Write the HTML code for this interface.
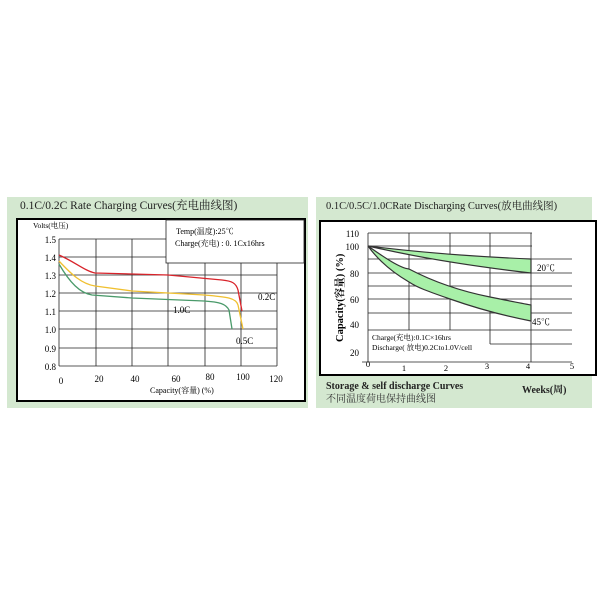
<!DOCTYPE html><html><head><meta charset="utf-8"><style>body{margin:0;background:#fff}svg{display:block}</style></head><body>
<svg width="600" height="600" xmlns="http://www.w3.org/2000/svg" font-family="Liberation Serif, Noto Serif CJK SC, serif">
<rect x="7" y="197" width="301" height="211" fill="#d4e8d0"/>
<rect x="316" y="197" width="276" height="211" fill="#d4e8d0"/>
<text x="20" y="209" font-size="11.5" fill="#222">0.1C/0.2C Rate Charging Curves(充电曲线图)</text>
<rect x="17" y="219" width="288" height="182" fill="#fff" stroke="#000" stroke-width="2"/>
<g stroke="#222" stroke-width="0.8">
<line x1="59" y1="239" x2="59" y2="366"/><line x1="59" y1="366" x2="277" y2="366"/>
<line x1="59" y1="257" x2="277" y2="257"/><line x1="59" y1="275" x2="277" y2="275"/><line x1="59" y1="293" x2="277" y2="293"/><line x1="59" y1="311" x2="277" y2="311"/><line x1="59" y1="329" x2="277" y2="329"/><line x1="59" y1="348" x2="277" y2="348"/><line x1="59" y1="239" x2="166" y2="239"/>
<line x1="96" y1="239" x2="96" y2="366"/><line x1="132" y1="239" x2="132" y2="366"/><line x1="168" y1="239" x2="168" y2="366"/><line x1="205" y1="250" x2="205" y2="366"/><line x1="241" y1="250" x2="241" y2="366"/><line x1="277" y1="250" x2="277" y2="366"/>
</g>
<rect x="166" y="220" width="138" height="43" fill="#fff" stroke="#222" stroke-width="0.8"/>
<text x="176" y="234" font-size="8">Temp(温度):25℃</text>
<text x="175" y="246" font-size="8">Charge(充电) : 0. 1Cx16hrs</text>
<text x="33" y="228" font-size="7.5">Volts(电压)</text>
<g font-size="9" text-anchor="end"><text x="56" y="243">1.5</text><text x="56" y="261">1.4</text><text x="56" y="279">1.3</text><text x="56" y="297">1.2</text><text x="56" y="315">1.1</text><text x="56" y="333">1.0</text><text x="56" y="352">0.9</text><text x="56" y="370">0.8</text></g>
<g font-size="9" text-anchor="middle"><text x="61" y="384">0</text><text x="99" y="382">20</text><text x="135" y="382">40</text><text x="176" y="382">60</text><text x="210" y="380">80</text><text x="243" y="380">100</text><text x="276" y="382">120</text></g>
<text x="150" y="393" font-size="8">Capacity(容量) (%)</text>
<text x="258" y="300" font-size="9">0.2C</text><text x="173" y="313" font-size="9">1.0C</text><text x="236" y="344" font-size="9">0.5C</text>
<g fill="none" stroke-width="1.3">
<path d="M59,255 C75,262 85,271 95,273 L168,275 L222,280 C232,281 236,283 238,290 L242,311" stroke="#d8232a"/>
<path d="M59,261 C72,275 82,284 95,286 L132,291 L204,295 C228,297 236,298 238,305 L243,329" stroke="#f0c030"/>
<path d="M59,264 C70,283 80,293 92,295 L132,298 L204,301 C220,302 226,304 229,310 L232,329" stroke="#4a9a6a"/>
</g>
<text x="326" y="209" font-size="10.5" fill="#222">0.1C/0.5C/1.0CRate Discharging Curves(放电曲线图)</text>
<rect x="320" y="221" width="276" height="154" fill="#fff" stroke="#000" stroke-width="2"/>
<g stroke="#222" stroke-width="0.8">
<line x1="368" y1="233" x2="368" y2="362"/><line x1="362" y1="362" x2="572" y2="362"/>
<line x1="368" y1="233" x2="532" y2="233"/><line x1="368" y1="246" x2="532" y2="246"/><line x1="368" y1="259" x2="572" y2="259"/><line x1="368" y1="273" x2="572" y2="273"/><line x1="368" y1="286" x2="572" y2="286"/><line x1="368" y1="299" x2="572" y2="299"/><line x1="368" y1="313" x2="572" y2="313"/><line x1="368" y1="330" x2="572" y2="330"/>
<line x1="409" y1="233" x2="409" y2="330"/><line x1="450" y1="233" x2="450" y2="330"/><line x1="490" y1="233" x2="490" y2="344"/><line x1="531" y1="233" x2="531" y2="362"/><line x1="490" y1="344" x2="572" y2="344"/>
</g>
<path d="M368,246 C400,250 460,256 531,259 L531,273 C470,266 420,258 368,246Z" fill="#a8f0a8" stroke="#333" stroke-width="1.2"/>
<path d="M368,246 C385,258 400,268 409,269 C430,280 455,290 490,297 C505,300 520,303 531,305 L531,321 C500,315 470,306 450,299 C430,292 418,288 409,282 C392,272 378,260 368,246Z" fill="#a8f0a8" stroke="#333" stroke-width="1.2"/>
<g font-size="9" text-anchor="end"><text x="359" y="237">110</text><text x="359" y="250">100</text><text x="359" y="277">80</text><text x="359" y="303">60</text><text x="359" y="328">40</text><text x="359" y="356">20</text></g>
<g font-size="8.5" text-anchor="middle"><text x="368" y="367">0</text><text x="404" y="371">1</text><text x="446" y="371">2</text><text x="487" y="369">3</text><text x="528" y="369">4</text><text x="572" y="369">5</text></g>
<text x="537" y="271" font-size="9">20℃</text><text x="532" y="325" font-size="9">45℃</text>
<text x="372" y="340" font-size="7.5">Charge(充电):0.1C×16hrs</text>
<text x="372" y="350" font-size="7.5">Discharge( 放电)0.2Cto1.0V/cell</text>
<text transform="translate(343,342) rotate(-90)" font-size="10.5" font-weight="bold">Capacity(容量) (%)</text>
<text x="326" y="389" font-size="10" font-weight="bold" fill="#222">Storage &amp; self  discharge Curves</text>
<text x="326" y="402" font-size="10" fill="#333">不同温度荷电保持曲线图</text>
<text x="522" y="393" font-size="10" font-weight="bold" fill="#222">Weeks(周)</text>
</svg></body></html>
